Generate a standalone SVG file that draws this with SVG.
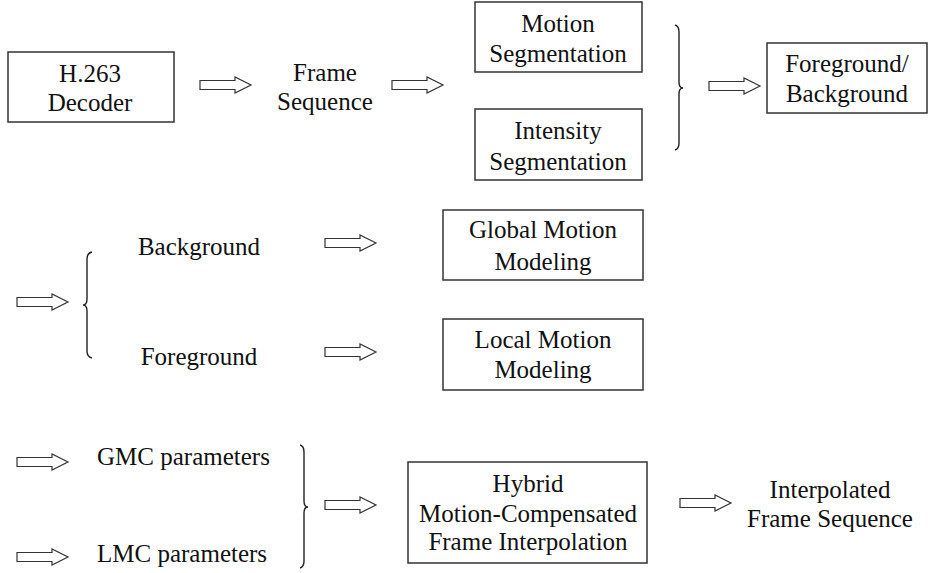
<svg xmlns="http://www.w3.org/2000/svg" xmlns:xlink="http://www.w3.org/1999/xlink" width="928" height="573" viewBox="0 0 928 573">
  <style>
    .box { fill: #ffffff; stroke: #333333; stroke-width: 1.5; }
    .lbl { font-family: "Liberation Serif", "Times New Roman", serif; font-size: 25px; fill: #111111; text-anchor: middle; }
    .lbl-left { text-anchor: start; }
    .arrow { fill: #ffffff; stroke: #333333; stroke-width: 1.2; stroke-linejoin: miter; }
    .brace { fill: none; stroke: #222222; stroke-width: 1.4; }
  </style>
  <defs>
    <!-- block arrow, origin at the tail centre -->
    <path id="blockArrow" class="arrow" d="M0,-4.5 H35 V-8 L51,0 L35,8 V4.5 H0 Z"/>
  </defs>

  <rect width="928" height="573" fill="#ffffff"/>

  <!-- Row 1: decoding and segmentation -->
  <g id="decoder">
    <rect class="box" x="8" y="52" width="166" height="70"/>
    <text class="lbl" x="90" y="82">H.263</text>
    <text class="lbl" x="90" y="111">Decoder</text>
  </g>
  <g id="frame-sequence">
    <text class="lbl" x="325" y="81">Frame</text>
    <text class="lbl" x="325" y="110">Sequence</text>
  </g>
  <g id="motion-segmentation">
    <rect class="box" x="475" y="2" width="167" height="70"/>
    <text class="lbl" x="558" y="32">Motion</text>
    <text class="lbl" x="558" y="62">Segmentation</text>
  </g>
  <g id="intensity-segmentation">
    <rect class="box" x="475" y="109" width="167" height="71"/>
    <text class="lbl" x="558" y="139">Intensity</text>
    <text class="lbl" x="558" y="170">Segmentation</text>
  </g>
  <g id="fg-bg">
    <rect class="box" x="767" y="43" width="160" height="70"/>
    <text class="lbl" x="847" y="72">Foreground/</text>
    <text class="lbl" x="847" y="102">Background</text>
  </g>

  <!-- Row 2: motion modeling -->
  <g id="background">
    <text class="lbl" x="199" y="255">Background</text>
  </g>
  <g id="foreground">
    <text class="lbl" x="199" y="365">Foreground</text>
  </g>
  <g id="global-motion">
    <rect class="box" x="443" y="210" width="200" height="70"/>
    <text class="lbl" x="543" y="238">Global Motion</text>
    <text class="lbl" x="543" y="270">Modeling</text>
  </g>
  <g id="local-motion">
    <rect class="box" x="443" y="319" width="200" height="71"/>
    <text class="lbl" x="543" y="348">Local Motion</text>
    <text class="lbl" x="543" y="378">Modeling</text>
  </g>

  <!-- Row 3: interpolation -->
  <g id="gmc-params">
    <text class="lbl lbl-left" x="97" y="465">GMC parameters</text>
  </g>
  <g id="lmc-params">
    <text class="lbl lbl-left" x="97" y="562">LMC parameters</text>
  </g>
  <g id="hybrid-mcfi">
    <rect class="box" x="408" y="462" width="239" height="101"/>
    <text class="lbl" x="528" y="492">Hybrid</text>
    <text class="lbl" x="528" y="522">Motion-Compensated</text>
    <text class="lbl" x="528" y="550">Frame Interpolation</text>
  </g>
  <g id="interpolated-sequence">
    <text class="lbl" x="830" y="498">Interpolated</text>
    <text class="lbl" x="830" y="527">Frame Sequence</text>
  </g>

  <!-- Connectors: block arrows and braces -->
  <g id="connectors">
    <use xlink:href="#blockArrow" href="#blockArrow" transform="translate(200,85)"/>
    <use xlink:href="#blockArrow" href="#blockArrow" transform="translate(392,85)"/>
    <use xlink:href="#blockArrow" href="#blockArrow" transform="translate(709,86)"/>
    <use xlink:href="#blockArrow" href="#blockArrow" transform="translate(17,302)"/>
    <use xlink:href="#blockArrow" href="#blockArrow" transform="translate(325,243)"/>
    <use xlink:href="#blockArrow" href="#blockArrow" transform="translate(325,352)"/>
    <use xlink:href="#blockArrow" href="#blockArrow" transform="translate(17,462)"/>
    <use xlink:href="#blockArrow" href="#blockArrow" transform="translate(17,557)"/>
    <use xlink:href="#blockArrow" href="#blockArrow" transform="translate(325,505)"/>
    <use xlink:href="#blockArrow" href="#blockArrow" transform="translate(680,503)"/>

    <path class="brace" d="M675,25 Q679,26 679,32 V82 Q679,88 683,88 Q679,88 679,94 V143 Q679,149 675,150"/>
    <path class="brace" d="M92,252 Q87,253 87,259 V299 Q87,305 83,305 Q87,305 87,311 V351 Q87,357 92,358"/>
    <path class="brace" d="M300,445 Q304,446 304,452 V501 Q304,507 308,507 Q304,507 304,513 V561 Q304,567 300,568"/>
  </g>
</svg>
